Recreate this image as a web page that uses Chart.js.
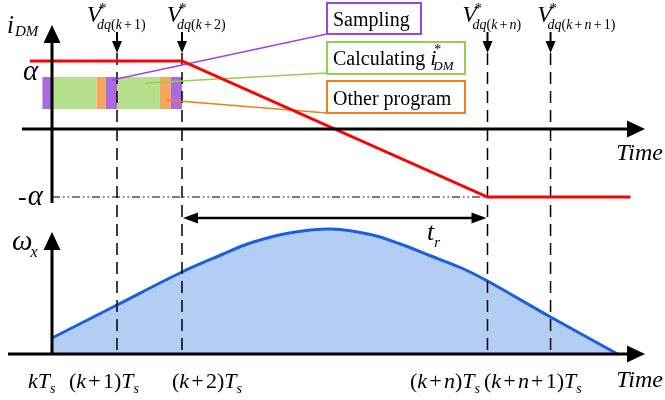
<!DOCTYPE html>
<html>
<head>
<meta charset="utf-8">
<script src="https://cdn.jsdelivr.net/npm/chart.js@4"></script>
<style>
body { margin: 0; background: #fff; }
#wrap { width: 665px; height: 400px; position: relative; }
</style>
</head>
<body>
<div id="wrap"><canvas id="chart1"></canvas></div>
<script>
// time is in units of Ts, 0 = kTs
const instants = [1, 2, 6.7, 7.67];
const v_labels = ['(k+1)', '(k+2)', '(k+n)', '(k+n+1)'];
const tick_at = [0, 1, 2, 6.7, 7.67];
const tick_labels = ['k', '(k+1)', '(k+2)', '(k+n)', '(k+n+1)'];

// i_DM reference (alpha = 1)
const idm_x = [-0.34, 2, 6.7, 8.9];
const idm_y = [1, 1, -1, -1];

// omega_x (peak = 1)
const omega_x = [0, 1, 2, 2.6, 3.05, 3.65, 4.3, 4.9, 5.35, 5.8, 6.3, 6.7, 7.67, 8.7];
const omega_y = [0.128, 0.392, 0.656, 0.792, 0.888, 0.968, 1.0, 0.956, 0.882, 0.79, 0.688, 0.584, 0.296, 0];

// processor time slots
const task_names = ['Sampling', 'Calculating', 'Other program'];
const block_start = [-0.15, 0, 0.68, 0.83, 1, 1.66, 1.83];
const block_end   = [0, 0.68, 0.83, 1, 1.66, 1.83, 2];
const block_task  = [0, 1, 2, 0, 1, 2, 0];
const block_top = 0.765, block_bottom = 0.294;

const fill_colors = ['#a86be2', '#b5df8d', '#f4a65e'];
const line_colors = ['#9b45e4', '#92d050', '#f07f16'];

const SERIF = '"Liberation Serif", "DejaVu Serif", serif';
const I = s => 'italic ' + s + 'px ' + SERIF;
const R = s => s + 'px ' + SERIF;

function draw_runs(ctx, x, y, parts) {
    for (const p of parts) {
        ctx.font = p.f;
        ctx.fillText(p.t, x, y + (p.dy || 0));
        x += ctx.measureText(p.t).width + (p.sp || 0);
    }
    return x;
}

function math_parts(str, size, dy, pad) {
    let parts = [];
    for (const ch of str) {
        if (/[a-z]/i.test(ch)) parts.push({t: ch, f: I(size), dy: dy});
        else if (ch === '+') {
            if (parts.length) parts[parts.length - 1].sp = size * pad;
            parts.push({t: ch, f: R(size), dy: dy, sp: size * pad});
        } else parts.push({t: ch, f: R(size), dy: dy});
    }
    return parts;
}

function arrow_head(ctx, x, y, dir, len, half) {
    ctx.beginPath();
    if (dir === 'up') { ctx.moveTo(x, y); ctx.lineTo(x - half, y + len); ctx.lineTo(x + half, y + len); }
    if (dir === 'down') { ctx.moveTo(x, y); ctx.lineTo(x - half, y - len); ctx.lineTo(x + half, y - len); }
    if (dir === 'right') { ctx.moveTo(x, y); ctx.lineTo(x - len, y - half); ctx.lineTo(x - len, y + half); }
    if (dir === 'left') { ctx.moveTo(x, y); ctx.lineTo(x + len, y - half); ctx.lineTo(x + len, y + half); }
    ctx.closePath();
    ctx.fill();
}

function line(ctx, x1, y1, x2, y2, w, c) {
    ctx.save();
    ctx.lineWidth = w;
    ctx.strokeStyle = c;
    ctx.beginPath();
    ctx.moveTo(x1, y1);
    ctx.lineTo(x2, y2);
    ctx.stroke();
    ctx.restore();
}

const decorations = {
    id: 'decorations',
    beforeDatasetDraw(chart, args) {
        if (chart.data.datasets[args.index].tag !== 'idm') return;
        const ctx = chart.ctx;
        // leader lines from the time slots to the legend boxes
        line(ctx, 112, 80, 327, 34, 1.5, line_colors[0]);
        line(ctx, 145, 83, 327, 73, 1.5, line_colors[1]);
        line(ctx, 166, 100, 327, 113, 1.5, line_colors[2]);
    },
    afterDatasetsDraw(chart) {
        const ctx = chart.ctx;
        const X = v => chart.scales.x.getPixelForValue(v);
        const Y1 = v => chart.scales.y.getPixelForValue(v);
        const Y2 = v => chart.scales.y2.getPixelForValue(v);
        const x0 = X(0);
        ctx.save();
        ctx.fillStyle = '#000';

        // top axes
        line(ctx, 22, Y1(0), 630, Y1(0), 3, '#000');
        arrow_head(ctx, 645, Y1(0), 'right', 18, 8.5);
        line(ctx, x0, 203, x0, 40, 3, '#000');
        arrow_head(ctx, x0, 25, 'up', 18, 8.5);
        // bottom axes
        line(ctx, 8, Y2(0), 630, Y2(0), 3, '#000');
        arrow_head(ctx, 645, Y2(0), 'right', 18, 8.5);
        line(ctx, x0, Y2(0), x0, 246, 3, '#000');
        arrow_head(ctx, x0, 232, 'up', 18, 8.5);

        // V* arrows and labels
        const v_dx = [-30, -15, -25, -13];
        instants.forEach((t, i) => {
            const px = X(t);
            line(ctx, px, 32, px, 44, 2, '#000');
            arrow_head(ctx, px, 53, 'down', 12, 5);
            const lx = px + v_dx[i];
            ctx.font = I(23);
            ctx.fillText('V', lx, 22);
            const w = ctx.measureText('V').width;
            ctx.font = R(15);
            ctx.fillText('*', lx + w - 2, 13);
            draw_runs(ctx, lx + w - 4, 29, math_parts('dq' + v_labels[i], 14, 0, 0.15));
        });

        // t_r double arrow
        line(ctx, X(2) + 10, 218, X(6.7) - 10, 218, 2.5, '#000');
        arrow_head(ctx, X(2) + 1, 218, 'left', 15, 5.5);
        arrow_head(ctx, X(6.7) - 1, 218, 'right', 15, 5.5);
        draw_runs(ctx, 427, 240, [{t: 't', f: I(26)}, {t: 'r', f: I(15), dy: 7}]);

        // axis names
        draw_runs(ctx, 7, 33, [{t: 'i', f: I(25), sp: 1}, {t: 'DM', f: I(15), dy: 3}]);
        ctx.font = I(29);
        ctx.fillText('\u03b1', 23, Y1(0.76) + 3);
        draw_runs(ctx, 18, Y1(-1) + 8, [{t: '-', f: R(26), sp: 1}, {t: '\u03b1', f: I(29)}]);
        draw_runs(ctx, 12, 250, [{t: '\u03c9', f: I(29), sp: -2}, {t: 'x', f: I(16), dy: 7}]);
        ctx.font = I(24);
        ctx.textAlign = 'right';
        ctx.fillText('Time', 663, 160);
        ctx.fillText('Time', 663, 387);
        ctx.textAlign = 'left';

        // time tick labels
        const tick_left = [28, 69, 172, 410, 484];
        tick_at.forEach((t, i) => {
            let parts = math_parts(tick_labels[i], 22, 0, 0.1);
            parts.push({t: 'T', f: I(22)});
            parts.push({t: 's', f: I(14), dy: 5});
            draw_runs(ctx, tick_left[i], 388, parts);
        });

        // legend boxes
        const boxes = [[327, 3, 94, 31], [327, 42, 138, 32], [327, 81, 138, 32]];
        boxes.forEach((b, i) => {
            ctx.lineWidth = 2;
            ctx.strokeStyle = line_colors[i];
            ctx.strokeRect(b[0], b[1], b[2], b[3]);
        });
        ctx.fillStyle = '#000';
        draw_runs(ctx, 333, 26, [{t: task_names[0], f: R(20)}]);
        const cx = draw_runs(ctx, 333, 65, [{t: task_names[1] + ' ', f: R(20)}, {t: 'i', f: I(22), sp: 1}]);
        ctx.font = R(14);
        ctx.fillText('*', cx - 3, 54);
        draw_runs(ctx, cx - 4, 70, [{t: 'DM', f: I(13)}]);
        draw_runs(ctx, 333, 105, [{t: task_names[2], f: R(20)}]);
        ctx.restore();
    }
};

let datasets = [];
datasets.push({
    tag: 'idm',
    data: idm_x.map((x, i) => ({x: x, y: idm_y[i]})),
    borderColor: '#ff0000', borderWidth: 3, pointRadius: 0, order: 0, yAxisID: 'y'
});
datasets.push({
    data: [{x: 0, y: -1}, {x: 6.7, y: -1}],
    borderColor: '#000', borderWidth: 1, borderDash: [8, 3, 1.5, 3, 1.5, 3],
    pointRadius: 0, order: 1, yAxisID: 'y'
});
instants.forEach(t => {
    datasets.push({
        data: [{x: t, y: 1.118}, {x: t, y: -3.31}],
        borderColor: '#000', borderWidth: 1.5, borderDash: [12, 7],
        pointRadius: 0, order: 1, yAxisID: 'y'
    });
});
datasets.push({
    data: omega_x.map((x, i) => ({x: x, y: omega_y[i]})),
    borderColor: '#1a5fdc', borderWidth: 3, backgroundColor: '#b4cdf4',
    fill: 'origin', tension: 0.35,
    pointRadius: 0, order: 2, yAxisID: 'y2'
});
block_start.forEach((s, i) => {
    datasets.push({
        data: [{x: s, y: block_top}, {x: block_end[i], y: block_top}],
        fill: {value: block_bottom}, backgroundColor: fill_colors[block_task[i]],
        borderWidth: 0, pointRadius: 0, order: 3, yAxisID: 'y'
    });
});

const chart1_cfg = {
    type: 'line',
    data: {datasets: datasets},
    options: {
        responsive: true,
        maintainAspectRatio: false,
        animation: false,
        layout: {padding: 0},
        plugins: {legend: {display: false}, tooltip: {enabled: false}},
        scales: {
            x: {type: 'linear', display: false, min: -52 / 65, max: 613 / 65, bounds: 'data'},
            y: {type: 'linear', display: false, min: -271 / 68, max: 129 / 68, bounds: 'data'},
            y2: {type: 'linear', display: false, min: -46 / 125, max: 354 / 125, bounds: 'data'}
        }
    },
    plugins: [decorations]
};

const chart1_ctx = document.getElementById('chart1').getContext('2d');
let chart1 = new Chart(chart1_ctx, chart1_cfg);
</script>
</body>
</html>
